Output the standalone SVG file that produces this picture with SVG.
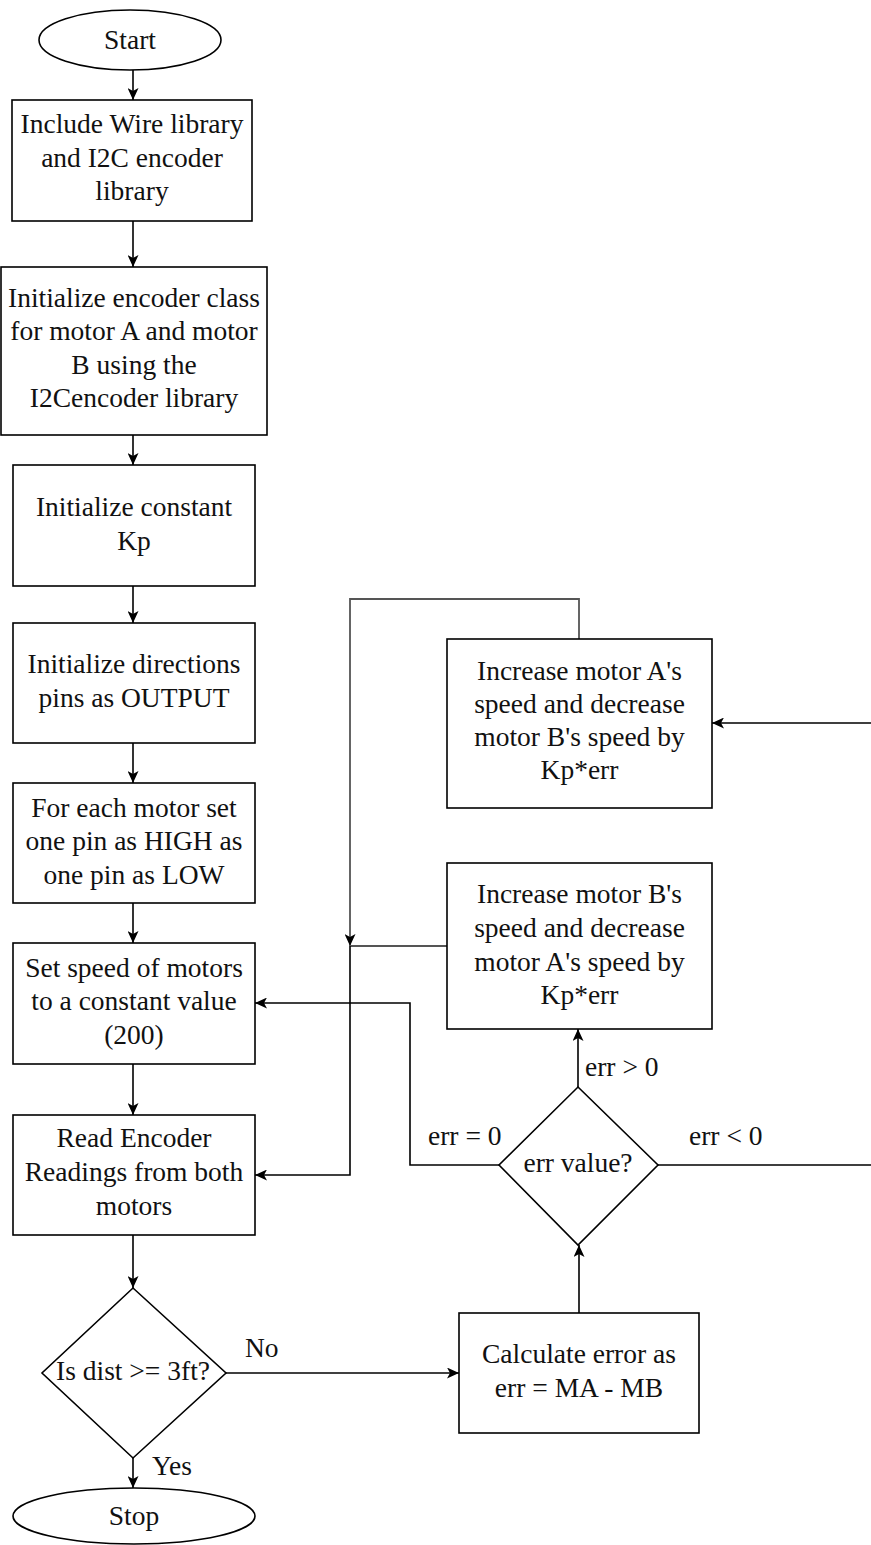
<svg xmlns="http://www.w3.org/2000/svg" width="871" height="1545" viewBox="0 0 871 1545">
<style>
.s{fill:#fff;stroke:#000;stroke-width:1.6}
.t{text-anchor:middle;font-size:27.5px;fill:#111}
.l{font-size:27.5px;fill:#111}
.c{fill:none;stroke:#000;stroke-width:1.6}
.g{fill:none;stroke:#555;stroke-width:1.8}
</style>
<defs>
<marker id="a" viewBox="0 0 12 11" refX="12" refY="5.5" markerWidth="12" markerHeight="11" markerUnits="userSpaceOnUse" orient="auto">
<path d="M0,0 L12,5.5 L0,11 L3,5.5 Z" fill="#000"/>
</marker>
</defs>
<rect width="871" height="1545" fill="#fff"/>
<g id="connectors">
<path class="c" d="M133,70 V100" marker-end="url(#a)"/>
<path class="c" d="M133,221 V267" marker-end="url(#a)"/>
<path class="c" d="M133,435 V465" marker-end="url(#a)"/>
<path class="c" d="M133,586 V623" marker-end="url(#a)"/>
<path class="c" d="M133,743 V783" marker-end="url(#a)"/>
<path class="c" d="M133,903 V943" marker-end="url(#a)"/>
<path class="c" d="M133,1064 V1115" marker-end="url(#a)"/>
<path class="c" d="M133,1235 V1288" marker-end="url(#a)"/>
<path class="c" d="M133,1458 V1488" marker-end="url(#a)"/>
<path class="c" d="M226,1373 H459" marker-end="url(#a)"/>
<path class="c" d="M579,1313 V1245" marker-end="url(#a)"/>
<path class="c" d="M578,1087 V1029" marker-end="url(#a)"/>
<path class="c" d="M658,1165 H874 V723 H712" marker-end="url(#a)"/>
<path class="c" d="M499,1165 H410 V1003 H255" marker-end="url(#a)"/>
<path class="g" d="M579,639 V599 H350 V946" marker-end="url(#a)"/>
<path class="g" d="M447,946 H350"/>
<path class="c" d="M350,946 V1175 H255" marker-end="url(#a)"/>
</g>
<g id="labels" font-family="Liberation Serif">
<text class="l" x="245" y="1357">No</text>
<text class="l" x="152" y="1475">Yes</text>
<text class="l" x="428" y="1145">err = 0</text>
<text class="l" x="585" y="1076">err &gt; 0</text>
<text class="l" x="689" y="1145">err &lt; 0</text>
</g>
<g id="start" font-family="Liberation Serif">
<ellipse class="s" cx="130" cy="40" rx="91" ry="30"/>
<text class="t" x="130" y="49">Start</text>
</g>
<g id="include" font-family="Liberation Serif">
<rect class="s" x="12" y="100" width="240" height="121"/>
<text class="t" x="132" y="133">Include Wire library</text>
<text class="t" x="132" y="166.5">and I2C encoder</text>
<text class="t" x="132" y="200">library</text>
</g>
<g id="initEncoder" font-family="Liberation Serif">
<rect class="s" x="1" y="267" width="266" height="168"/>
<text class="t" x="134" y="307">Initialize encoder class</text>
<text class="t" x="134" y="340.3">for motor A and motor</text>
<text class="t" x="134" y="373.6">B using the</text>
<text class="t" x="134" y="407">I2Cencoder library</text>
</g>
<g id="initKp" font-family="Liberation Serif">
<rect class="s" x="13" y="465" width="242" height="121"/>
<text class="t" x="134" y="516">Initialize constant</text>
<text class="t" x="134" y="550">Kp</text>
</g>
<g id="initPins" font-family="Liberation Serif">
<rect class="s" x="13" y="623" width="242" height="120"/>
<text class="t" x="134" y="673">Initialize directions</text>
<text class="t" x="134" y="707">pins as OUTPUT</text>
</g>
<g id="setPins" font-family="Liberation Serif">
<rect class="s" x="13" y="783" width="242" height="120"/>
<text class="t" x="134" y="816.5">For each motor set</text>
<text class="t" x="134" y="850">one pin as HIGH as</text>
<text class="t" x="134" y="883.5">one pin as LOW</text>
</g>
<g id="setSpeed" font-family="Liberation Serif">
<rect class="s" x="13" y="943" width="242" height="121"/>
<text class="t" x="134" y="976.5">Set speed of motors</text>
<text class="t" x="134" y="1010">to a constant value</text>
<text class="t" x="134" y="1043.5">(200)</text>
</g>
<g id="readEnc" font-family="Liberation Serif">
<rect class="s" x="13" y="1115" width="242" height="120"/>
<text class="t" x="134" y="1147">Read Encoder</text>
<text class="t" x="134" y="1181">Readings from both</text>
<text class="t" x="134" y="1215">motors</text>
</g>
<g id="distCheck" font-family="Liberation Serif">
<path class="s" d="M133,1288 L226,1373 L133,1458 L42,1373 Z"/>
<text class="t" x="133" y="1380">Is dist &gt;= 3ft?</text>
</g>
<g id="stop" font-family="Liberation Serif">
<ellipse class="s" cx="134" cy="1516" rx="121" ry="28"/>
<text class="t" x="134" y="1525">Stop</text>
</g>
<g id="calcErr" font-family="Liberation Serif">
<rect class="s" x="459" y="1313" width="240" height="120"/>
<text class="t" x="579" y="1363">Calculate error as</text>
<text class="t" x="579" y="1397">err = MA - MB</text>
</g>
<g id="errValue" font-family="Liberation Serif">
<path class="s" d="M578,1087 L658,1165 L578,1245 L499,1165 Z"/>
<text class="t" x="578" y="1172">err value?</text>
</g>
<g id="adjustB" font-family="Liberation Serif">
<rect class="s" x="447" y="863" width="265" height="166"/>
<text class="t" x="579.5" y="903">Increase motor B's</text>
<text class="t" x="579.5" y="937">speed and decrease</text>
<text class="t" x="579.5" y="971">motor A's speed by</text>
<text class="t" x="579.5" y="1004">Kp*err</text>
</g>
<g id="adjustA" font-family="Liberation Serif">
<rect class="s" x="447" y="639" width="265" height="169"/>
<text class="t" x="579.5" y="680">Increase motor A's</text>
<text class="t" x="579.5" y="713">speed and decrease</text>
<text class="t" x="579.5" y="746">motor B's speed by</text>
<text class="t" x="579.5" y="779">Kp*err</text>
</g>
</svg>
